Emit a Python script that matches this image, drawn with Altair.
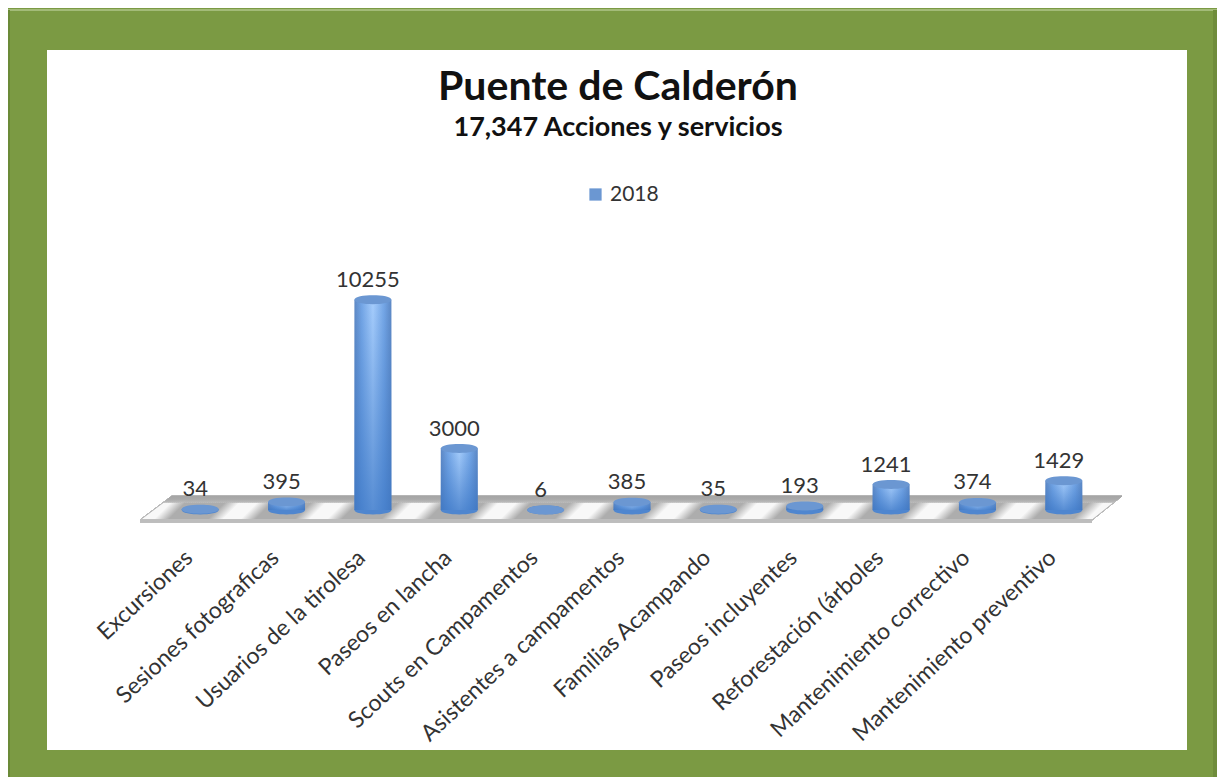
import altair as alt
import pandas as pd

categories = ["Excursiones", "Sesiones fotograficas", "Usuarios de la tirolesa", "Paseos en lancha",
              "Scouts en Campamentos", "Asistentes a campamentos", "Familias Acampando",
              "Paseos incluyentes", "Reforestación (árboles", "Mantenimiento correctivo",
              "Mantenimiento preventivo"]
values = [34, 395, 10255, 3000, 6, 385, 35, 193, 1241, 374, 1429]
series = ["2018"] * len(values)

df = pd.DataFrame({"cat": categories, "val": values, "serie": series, "base": [0] * len(values)})

VW, VH = 950, 246
OX, OY = 157, 264   # image position of the view
PANEL = (47, 50, 1187, 750)
BOTTOM = 777
RIGHT = 1217

x = alt.X("cat:N", sort=categories, title=None,
          scale=alt.Scale(paddingInner=0, paddingOuter=0),
          axis=alt.Axis(labelAngle=-43, labelFont="Lato", labelFontSize=23, labelColor="#333333",
                        labelAlign="right", labelBaseline="middle", labelPadding=44, labelOffset=-11,
                        labelOverlap=False, labelLimit=400, domain=False, ticks=False, grid=False,
                        zindex=1))
y = alt.Y("val:Q", title=None, scale=alt.Scale(domain=[0, 12000]), axis=None)
base = alt.Chart(df)

panel = base.mark_rect(color="white").encode(
    x=alt.value(PANEL[0] - OX), x2=alt.value(PANEL[2] - OX),
    y=alt.value(PANEL[1] - OY), y2=alt.value(PANEL[3] - OY))
top_light = base.mark_rule(color="#a3bb78", strokeWidth=2).encode(
    x=alt.value(8 - OX), x2=alt.value(RIGHT - OX), y=alt.value(10 - OY))
left_dark = base.mark_rule(color="#6b8a38", strokeWidth=1.5).encode(
    x=alt.value(9 - OX), y=alt.value(10 - OY), y2=alt.value(BOTTOM - OY))
right_dark = base.mark_rule(color="#6f8c3b", strokeWidth=4).encode(
    x=alt.value(RIGHT - 2 - OX), y=alt.value(10 - OY), y2=alt.value(BOTTOM - OY))

# floor: parallelogram, stripes through a gradient
stops = []
GREY, WHITE = "#adadad", "#f8f8f8"
for i in range(12):
    c = 0.117 + (i - 1) * 0.088
    for off, col in [(-0.044, GREY), (-0.024, GREY), (-0.009, WHITE), (0.009, WHITE), (0.024, GREY)]:
        t = c + off
        if 0 <= t <= 1:
            stops.append(alt.GradientStop(offset=round(t, 4), color=col))
floor_grad = alt.LinearGradient(gradient="linear", x1=0, y1=0, x2=1, y2=0.0245, stops=stops)
floor_path = "M-491,12 L-459,-12 L491,-12 L461,12 Z"
floor = base.mark_point(shape=floor_path, filled=True, fill=floor_grad, stroke="#b5b5b5",
                        strokeWidth=1, opacity=1).encode(
    x=alt.value(631 - OX), y=alt.value(508 - OY), size=alt.value(4))
veil_grad = alt.LinearGradient(gradient="linear", x1=0, y1=0, x2=0, y2=1, stops=[
    alt.GradientStop(offset=0, color="rgba(165,165,165,1)"),
    alt.GradientStop(offset=0.14, color="rgba(170,170,170,0.75)"),
    alt.GradientStop(offset=0.3, color="rgba(190,190,190,0)")])
veil = base.mark_point(shape=floor_path, filled=True, fill=veil_grad, opacity=1, strokeWidth=0).encode(
    x=alt.value(631 - OX), y=alt.value(508 - OY), size=alt.value(4))
lip = base.mark_rule(color="#bdbdbd", strokeWidth=3).encode(
    x=alt.value(140 - OX), x2=alt.value(1092 - OX), y=alt.value(521 - OY))

side = alt.LinearGradient(gradient="linear", x1=0, y1=0, x2=1, y2=0, stops=[
    alt.GradientStop(offset=0, color="#5d88c4"),
    alt.GradientStop(offset=0.2, color="#74a6e6"),
    alt.GradientStop(offset=0.5, color="#a6cdfc"),
    alt.GradientStop(offset=0.8, color="#74a6e6"),
    alt.GradientStop(offset=1, color="#5d88c4")])
shade = alt.LinearGradient(gradient="linear", x1=0, y1=0, x2=0, y2=1, stops=[
    alt.GradientStop(offset=0, color="rgba(55,115,195,0)"),
    alt.GradientStop(offset=1, color="rgba(55,115,195,0.7)")])

ELL = "M-1,0 C-1,-0.32 1,-0.32 1,0 C1,0.32 -1,0.32 -1,0 Z"
bottom = base.mark_point(shape=ELL, filled=True, fill="#4f86cf", opacity=1, size=1369).encode(
    x=x, y=alt.Y("base:Q", scale=alt.Scale(domain=[0, 12000]), axis=None))
body = base.mark_bar(size=37, fill=side).encode(x=x, y=y, y2=alt.Y2("base:Q"))
body2 = base.mark_bar(size=37, fill=shade).encode(x=x, y=y, y2=alt.Y2("base:Q"))
top = base.mark_point(shape=ELL, filled=True, opacity=1, size=1369).encode(
    x=x, y=y,
    color=alt.Color("serie:N", scale=alt.Scale(range=["#6b97d2"]),
                    legend=alt.Legend(title=None, orient="none", legendX=590 - OX - 5, legendY=184 - OY,
                                      symbolType="square", symbolSize=150, symbolStrokeWidth=0,
                                      labelFont="Lato", labelFontSize=21, labelColor="#333333",
                                      labelOffset=4)))
labels = base.mark_text(font="Lato", fontSize=22, color="#333333", baseline="alphabetic", dx=-5, dy=-13).encode(
    x=x, y=y, text="val:Q")

chart = alt.layer(panel, top_light, left_dark, right_dark, floor, veil, lip, bottom, body, body2, top, labels).properties(
    width=VW, height=VH,
    autosize=alt.AutoSizeParams(type="none"),
    padding={"left": OX - 8, "top": OY - 8, "right": RIGHT - OX - VW, "bottom": BOTTOM - OY - VH},
    background="#7b9a43",
    title=alt.TitleParams(text="Puente de Calderón", subtitle="17,347 Acciones y servicios",
                          anchor="middle", dx=-14, offset=-134, font="Lato", fontWeight="bold", fontSize=41,
                          color="#111111", subtitleFont="Lato", subtitleFontWeight="bold",
                          subtitleFontSize=27, subtitleColor="#111111", subtitlePadding=6),
).configure_view(stroke=None)

chart.save("out.html", embed_options={"renderer": "svg", "actions": False})
